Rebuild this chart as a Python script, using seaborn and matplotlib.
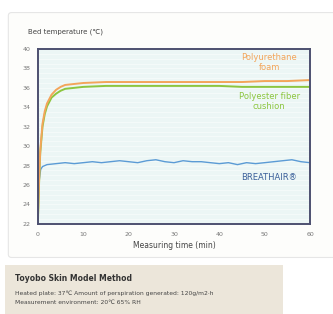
import matplotlib
matplotlib.use("Agg")
import matplotlib.pyplot as plt
import seaborn as sns
import pandas as pd
from matplotlib.patches import FancyBboxPatch, Rectangle

# data
t_foam = [0, 0.25, 0.5, 1, 1.5, 2, 3, 4, 5, 6, 8, 10, 15, 20, 25, 30, 35, 40, 45, 50, 55, 60]
foam = [22.8, 26.5, 29.5, 32.3, 33.6, 34.4, 35.3, 35.8, 36.1, 36.3, 36.4, 36.5, 36.6, 36.6,
        36.6, 36.6, 36.6, 36.6, 36.6, 36.7, 36.7, 36.8]
fiber = [22.4, 26.3, 29.3, 32.0, 33.3, 34.1, 35.0, 35.4, 35.7, 35.9, 36.0, 36.1, 36.2, 36.2,
         36.2, 36.2, 36.2, 36.2, 36.1, 36.1, 36.1, 36.1]
t_air = [0, 0.3, 0.6, 1, 2, 4, 6, 8, 10, 12, 14, 16, 18, 20, 22, 24, 26, 28, 30, 32, 34,
         36, 38, 40, 42, 44, 46, 48, 50, 52, 54, 56, 58, 60]
air = [24.0, 26.6, 27.6, 27.9, 28.1, 28.2, 28.3, 28.2, 28.3, 28.4, 28.3, 28.4, 28.5, 28.4,
       28.3, 28.5, 28.6, 28.4, 28.3, 28.5, 28.4, 28.4, 28.3, 28.2, 28.3, 28.1, 28.3, 28.2,
       28.3, 28.4, 28.5, 28.6, 28.4, 28.3]
x_ticks = [0, 10, 20, 30, 40, 50, 60]
y_ticks = [22, 24, 26, 28, 30, 32, 34, 36, 38, 40]

orange, green, blue, frame = "#f3a55a", "#8cc63f", "#5b9bd5", "#4d5070"

sns.set_style("white")
plt.rcParams["font.family"] = ["DejaVu Sans"]

fig = plt.figure(figsize=(3.33, 3.14), dpi=100)
fig.patch.set_facecolor("white")

# card behind the chart and the note box under it
card = FancyBboxPatch((0.025, 0.18), 1.0, 0.78, boxstyle="round,pad=0,rounding_size=0.01",
                      transform=fig.transFigure, facecolor="#fdfdfb", edgecolor="#e6e6e6",
                      linewidth=0.8, zorder=-10)
fig.patches.append(card)
note = Rectangle((0.015, 0.0), 0.835, 0.155, transform=fig.transFigure,
                 facecolor="#ece6da", edgecolor="none", zorder=-10)
fig.patches.append(note)

ax = fig.add_axes([0.114, 0.287, 0.817, 0.557])
ax.set_zorder(2)
ax.set_facecolor("#ecf6f5")

df_foam = pd.DataFrame({"t": t_foam, "v": foam})
df_fiber = pd.DataFrame({"t": t_foam, "v": fiber})
df_air = pd.DataFrame({"t": t_air, "v": air})
sns.lineplot(data=df_air, x="t", y="v", ax=ax, color=blue, linewidth=1.0)
sns.lineplot(data=df_fiber, x="t", y="v", ax=ax, color=green, linewidth=1.4)
sns.lineplot(data=df_foam, x="t", y="v", ax=ax, color=orange, linewidth=1.4)

ax.set_xlim(0, 60)
ax.set_ylim(22, 40)
ax.set_xticks(x_ticks)
ax.set_yticks(y_ticks)
ax.set_yticks([v / 2 for v in range(44, 81)], minor=True)
ax.grid(which="both", axis="y", color="#f8fcfb", linewidth=0.5)
ax.set_axisbelow(True)
ax.tick_params(axis="both", labelsize=4.5, colors="#777777", length=2, width=0.5)
ax.tick_params(axis="y", which="minor", length=0)
for s in ax.spines.values():
    s.set_color(frame)
    s.set_linewidth(1.4)
ax.set_xlabel("Measuring time (min)", fontsize=5.5, color="#444444", labelpad=3)
ax.set_ylabel("")

fig.text(0.085, 0.893, "Bed temperature (\u2103)", fontsize=5, color="#444444")
ax.text(51, 38.6, "Polyurethane\nfoam", ha="center", va="center", fontsize=6,
        color=orange, linespacing=1.05)
ax.text(51, 34.6, "Polyester fiber\ncushion", ha="center", va="center", fontsize=6,
        color=green, linespacing=1.05)
ax.text(51, 26.8, "BREATHAIR\u00ae", ha="center", va="center", fontsize=6, color="#3a5f9a")

fig.text(0.045, 0.105, "Toyobo Skin Model Method", fontsize=5.5, color="#333333",
         fontweight="bold")
fig.text(0.045, 0.062, "Heated plate: 37\u2103 Amount of perspiration generated: 120g/m2\u00b7h",
         fontsize=4.3, color="#444444")
fig.text(0.045, 0.032, "Measurement environment: 20\u2103 65% RH", fontsize=4.3, color="#444444")

fig.savefig("out.png", dpi=100)
